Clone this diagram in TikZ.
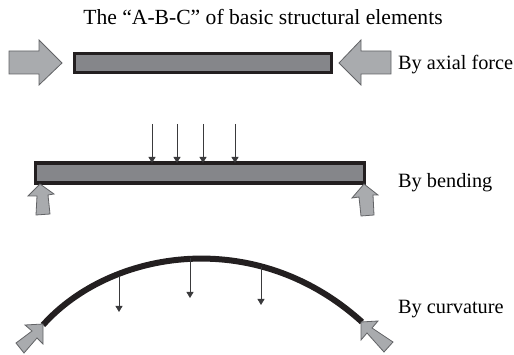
\documentclass[tikz,border=0pt]{standalone}
\usepackage{fontspec}
\setmainfont{Liberation Serif}
\usetikzlibrary{arrows.meta}
\definecolor{beamfill}{HTML}{85868A}
\definecolor{beamline}{HTML}{231F20}
\definecolor{pushfill}{HTML}{A9ABAE}
\definecolor{pushline}{HTML}{626366}
\definecolor{loadline}{HTML}{3A3A3C}
\tikzset{
  beam/.style={draw=beamline,line width=3.2pt,fill=beamfill,inner sep=0pt,outer sep=0pt,rectangle},
  arch/.style={draw=beamline,line width=6pt},
  push/.style={draw=pushline,fill=pushfill,line width=.8pt,line join=miter},
  load/.style={draw=loadline,line width=.8pt,-{Triangle[length=6pt,width=7pt]}},
  label/.style={anchor=base west,inner sep=0pt,font=\fontsize{20.3}{24}\selectfont,text=black},
}
\begin{document}
\begin{tikzpicture}[x=1pt,y=-1pt]
\useasboundingbox (0,0) rectangle (514,355);
\node[anchor=base,inner sep=0pt,font=\fontsize{21.6}{24}\selectfont] (title) at (263,25) {The “A-B-C” of basic structural elements};
% axial
\node[beam,minimum width=257pt,minimum height=19pt] (b1) at (203,63) {};
\draw[push] (9,51)--(39,51)--(39,40)--(62,63)--(39,85)--(39,74)--(9,74)--cycle;
\draw[push] (339,63)--(361,40)--(361,51)--(391,51)--(391,74)--(361,74)--(361,85)--cycle;
\node[label] (t1) at (398,70) {By axial force};
% bending
\node[beam,minimum width=329pt,minimum height=20pt] (b2) at (200,173) {};
\coordinate (l1) at (152,124);
\coordinate (l2) at (177,124);
\coordinate (l3) at (203,124);
\coordinate (l4) at (235,124);
\foreach \n in {l1,l2,l3,l4} \draw[load] (\n) -- (\n |- b2.north);
\draw[push] (40,184)--(54,194)--(48,195)--(50,214)--(36,215)--(37,196)--(28,196)--cycle;
\draw[push] (364,184)--(378,195)--(373,195)--(374,215)--(361,216)--(359,197)--(352,198)--cycle;
\node[label] (t2) at (398,188) {By bending};
% curvature
\coordinate (a0) at (43,325);
\coordinate (a1) at (362,322);
\draw[arch] (a0) .. controls (110,250) and (255,225) .. (a1);
\coordinate (c1) at (119,276);
\coordinate (c2) at (190,258);
\coordinate (c3) at (261,267);
\coordinate (e1) at (119,312);
\coordinate (e2) at (190,298);
\coordinate (e3) at (261,305);
\draw[load] (c1) -- (e1);
\draw[load] (c2) -- (e2);
\draw[load] (c3) -- (e3);
\draw[push] (43,324)--(25,325)--(32,331)--(16,343)--(24,353)--(37,338)--(43,344)--cycle;
\draw[push] (361,322)--(378,321)--(372,328)--(393,342)--(384,352)--(367,333)--(361,340)--cycle;
\node[label] (t3) at (398,314) {By curvature};
\end{tikzpicture}
\end{document}
